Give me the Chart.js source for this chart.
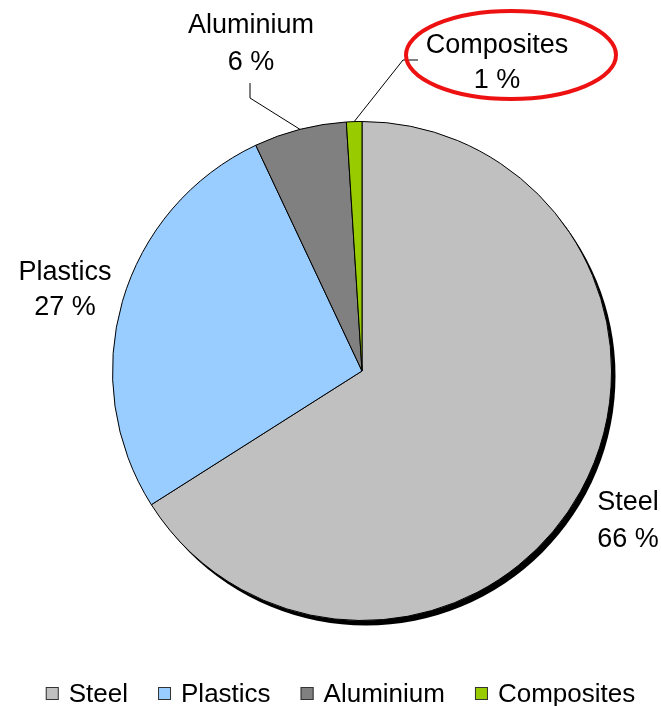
<!DOCTYPE html>
<html>
<head>
<meta charset="utf-8">
<script src="https://cdn.jsdelivr.net/npm/chart.js@4.4.0/dist/chart.umd.min.js"></script>
<style>
html,body{margin:0;padding:0;background:#fff;}
#wrap{width:661px;height:706px;position:relative;}
</style>
</head>
<body>
<div id="wrap"><canvas id="c" width="661" height="706"></canvas></div>
<script>
const categories = ["Steel", "Plastics", "Aluminium", "Composites"];
const shares = [66, 27, 6, 1];
const colors = ["#c0c0c0", "#99ccff", "#808080", "#99cc00"];

const FONT = '"Liberation Sans", Arial, sans-serif';

// label placement (text centre x, baselines of two lines)
const labelPos = [
  {x: 628, y1: 510, y2: 547},
  {x: 65, y1: 280, y2: 315},
  {x: 251, y1: 33, y2: 70},
  {x: 497, y1: 53, y2: 88}
];

const shadowPlugin = {
  id: 'shadow',
  beforeDatasetsDraw(chart) {
    const arc = chart.getDatasetMeta(0).data[0];
    if (!arc) return;
    const ctx = chart.ctx;
    ctx.save();
    ctx.fillStyle = '#000';
    ctx.beginPath();
    ctx.arc(arc.x + 4, arc.y + 5, arc.outerRadius, 0, Math.PI * 2);
    ctx.fill();
    ctx.restore();
  }
};

const labelPlugin = {
  id: 'labels',
  afterDatasetsDraw(chart) {
    const ctx = chart.ctx;
    const meta = chart.getDatasetMeta(0);
    ctx.save();
    ctx.fillStyle = '#000';
    ctx.font = '27px ' + FONT;
    ctx.textAlign = 'center';
    ctx.textBaseline = 'alphabetic';
    categories.forEach((c, i) => {
      const p = labelPos[i];
      ctx.fillText(c, p.x, p.y1);
      ctx.fillText(shares[i] + ' %', p.x, p.y2);
    });
    ctx.strokeStyle = '#000';
    ctx.lineWidth = 1;
    const edge = (i) => {
      const a = meta.data[i];
      const mid = (a.startAngle + a.endAngle) / 2;
      return {x: a.x + Math.cos(mid) * a.outerRadius, y: a.y + Math.sin(mid) * a.outerRadius};
    };
    let e = edge(2);
    ctx.beginPath();
    ctx.moveTo(250, 83);
    ctx.lineTo(250, 98);
    ctx.lineTo(e.x, e.y);
    ctx.stroke();
    e = edge(3);
    ctx.beginPath();
    ctx.moveTo(418, 60);
    ctx.lineTo(403, 60);
    ctx.lineTo(e.x, e.y);
    ctx.stroke();
    ctx.strokeStyle = '#ee1111';
    ctx.lineWidth = 4;
    ctx.beginPath();
    ctx.ellipse(511, 55, 105, 44, 0, 0, Math.PI * 2);
    ctx.stroke();
    ctx.font = '26px ' + FONT;
    ctx.textAlign = 'left';
    const items = [];
    let total = 0;
    const box = 13, gapBox = 10, gapItem = 30;
    categories.forEach((c, i) => {
      const w = ctx.measureText(c).width;
      items.push(w);
      total += box + gapBox + w + (i < categories.length - 1 ? gapItem : 0);
    });
    let x = (chart.width - total) / 2 + 10;
    const base = 702;
    categories.forEach((c, i) => {
      ctx.fillStyle = colors[i];
      ctx.fillRect(x, base - 15, box, box);
      ctx.strokeStyle = '#333';
      ctx.lineWidth = 1;
      ctx.strokeRect(x + 0.5, base - 14.5, box - 1, box - 1);
      ctx.fillStyle = '#000';
      ctx.fillText(c, x + box + gapBox, base);
      x += box + gapBox + items[i] + gapItem;
    });
    ctx.restore();
  }
};

new Chart(document.getElementById('c'), {
  type: 'pie',
  data: {
    labels: categories,
    datasets: [{
      data: shares,
      backgroundColor: colors,
      borderColor: '#000',
      borderWidth: 1
    }]
  },
  options: {
    responsive: false,
    animation: false,
    devicePixelRatio: 1,
    layout: {padding: {left: 112, right: 49, top: 121, bottom: 85}},
    plugins: {legend: {display: false}, tooltip: {enabled: false}}
  },
  plugins: [shadowPlugin, labelPlugin]
});
</script>
</body>
</html>
